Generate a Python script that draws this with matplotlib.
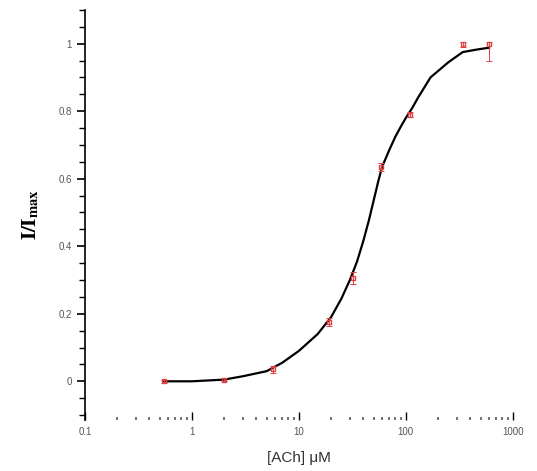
import matplotlib.pyplot as plt
from matplotlib.ticker import LogLocator, MultipleLocator, FixedLocator, NullFormatter

# Data
conc = [0.55, 2, 5.7, 19, 32, 58, 110, 340, 600]
resp = [0.0, 0.005, 0.035, 0.175, 0.305, 0.635, 0.79, 1.0, 1.0]
err_low = [0.005, 0.005, 0.01, 0.012, 0.018, 0.012, 0.008, 0.01, 0.05]
err_high = [0.005, 0.005, 0.01, 0.012, 0.018, 0.012, 0.008, 0.005, 0.005]

fit_conc = [0.55, 1, 2, 3, 5, 7, 10, 15, 20, 25, 30, 35, 40, 45, 50, 55,
            60, 70, 80, 90, 100, 115, 130, 170, 250, 340, 450, 600]
fit_resp = [0.0, 0.0, 0.005, 0.015, 0.03, 0.055, 0.09, 0.14, 0.19, 0.245,
            0.30, 0.355, 0.415, 0.475, 0.535, 0.59, 0.635, 0.685, 0.725,
            0.755, 0.78, 0.81, 0.84, 0.90, 0.945, 0.975, 0.982, 0.988]

x_ticks = [0.1, 1, 10, 100, 1000]
x_labels = ["0.1", "1", "10", "100", "1000"]
y_ticks = [0, 0.2, 0.4, 0.6, 0.8, 1.0]
y_labels = ["0", "0.2", "0.4", "0.6", "0.8", "1"]

plt.rcParams["font.family"] = ["Liberation Sans", "DejaVu Sans"]
plt.rcParams["mathtext.fontset"] = "stix"

fig = plt.figure(figsize=(5.37, 4.71), dpi=100)
ax = fig.add_axes([0.158, 0.108, 0.797, 0.871])

# fitted curve
ax.plot(fit_conc, fit_resp, color="black", lw=1.6, zorder=2)

# data points with error bars
ax.errorbar(conc, resp, yerr=[err_low, err_high], fmt="s", ms=3,
            mfc="none", mec="#e04040", ecolor="#e04040", elinewidth=0.7,
            capsize=2, capthick=0.7, zorder=3)

ax.set_xscale("log")
ax.set_xlim(0.1, 1000)
ax.set_ylim(-0.115, 1.1)

ax.xaxis.set_major_locator(FixedLocator(x_ticks))
ax.set_xticklabels(x_labels)
ax.xaxis.set_minor_locator(LogLocator(base=10, subs=range(2, 10)))
ax.xaxis.set_minor_formatter(NullFormatter())
ax.set_yticks(y_ticks)
ax.set_yticklabels(y_labels)
ax.yaxis.set_minor_locator(MultipleLocator(0.05))

for side in ["top", "right", "bottom"]:
    ax.spines[side].set_visible(False)
ax.spines["left"].set_linewidth(1.2)

ax.tick_params(axis="x", which="major", direction="in", length=6, width=1,
               labelsize=7, labelcolor="#555555", pad=5)
ax.tick_params(axis="x", which="minor", direction="in", length=2, width=1.5,
               color="#777777")
ax.tick_params(axis="y", which="major", direction="out", length=6, width=1.2,
               labelsize=7, labelcolor="#555555")
ax.tick_params(axis="y", which="minor", direction="out", length=4, width=1)

ax.set_xlabel("[ACh] μM", fontsize=11, color="#333333", labelpad=10)
ax.set_ylabel(r"$\mathbf{I/I}_{\mathbf{max}}$", fontsize=15, labelpad=12)

fig.savefig("out.png", dpi=100)
